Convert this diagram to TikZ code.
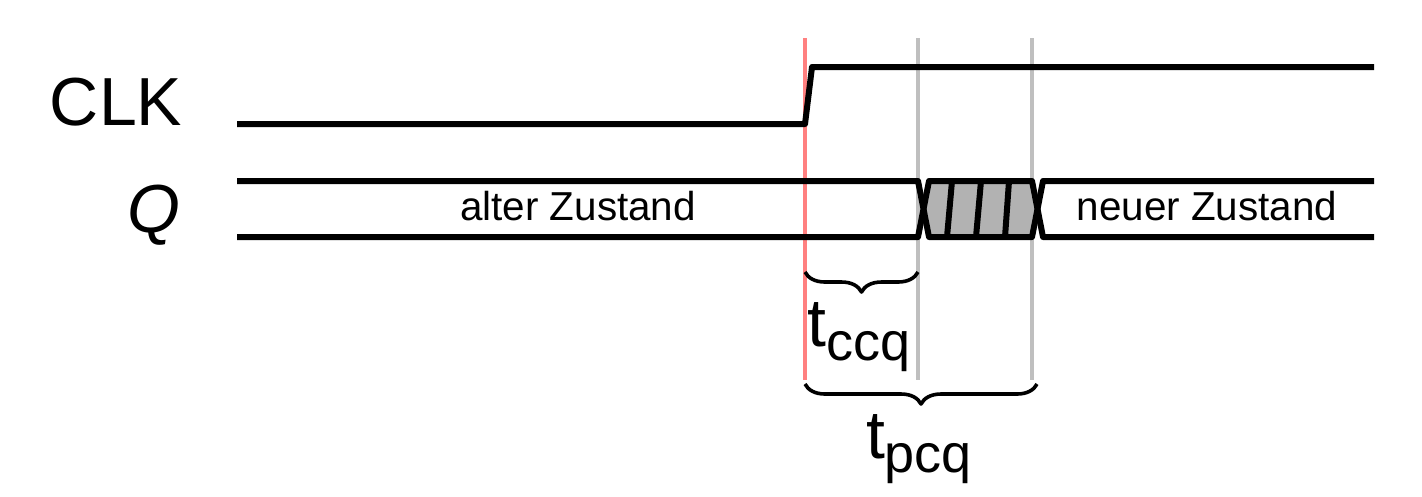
\documentclass[tikz,border=0pt]{standalone}
\usepackage{fontspec}
\setmainfont{Liberation Sans}
\usetikzlibrary{decorations.pathreplacing}

\newcommand{\tdelay}[1]{t\raisebox{-0.4ex}{\fontsize{13.5}{13.5}\selectfont #1}}

\begin{document}
\begin{tikzpicture}[x=0.25pt,y=-0.25pt,line join=round]

	% Define styles
	\tikzstyle{signal} = [line width=1.5pt, black]
	\tikzstyle{clock edge} = [line width=1.1pt, red!50]
	\tikzstyle{marker} = [line width=1.1pt, black!25]
	\tikzstyle{delay brace} = [decorate, decoration={brace, mirror, amplitude=5pt}, line width=0.9pt]
	\tikzstyle{big label} = [inner sep=0pt, font=\fontsize{17}{17}\selectfont]
	\tikzstyle{state label} = [inner sep=0pt, anchor=base, font=\fontsize{10.1}{10.1}\selectfont]

	\useasboundingbox (0,0) rectangle (1422,496);

	% Time markers
	\draw[clock edge] (805,38) -- (805,380);
	\foreach \x in {918,1032}
		\draw[marker] (\x,38) -- (\x,380);

	% Signal names
	\node[big label, anchor=base east] (clk) at (183,125) {CLK};
	\node[big label, anchor=base east] (q) at (181,232) {\textit{Q}};

	% Clock
	\draw[signal] (237,124) -- (805,124) -- (812,67) -- (1374,67);

	% Undefined region of Q
	\fill[black!30] (924,209) -- (929,181) -- (1032,181) -- (1037,209) -- (1032,237) -- (929,237) -- cycle;
	\foreach \top/\bot in {952/947, 981/976, 1009/1005}
		\draw[signal] (\top,181) -- (\bot,237);

	% Q bus
	\draw[signal] (237,181) -- (918,181) -- (929,237) -- (1032,237) -- (1043,181) -- (1374,181);
	\draw[signal] (237,237) -- (918,237) -- (929,181) -- (1032,181) -- (1043,237) -- (1374,237);
	\node[state label] (old) at (578,220) {alter Zustand};
	\node[state label] (new) at (1207,220) {neuer Zustand};

	% Delays
	\draw[delay brace] (805,272) -- (918,272);
	\node[big label, anchor=base] (tccq) at (859,346) {\tdelay{ccq}};
	\draw[delay brace] (805,384) -- (1037,384);
	\node[big label, anchor=base] (tpcq) at (919,458) {\tdelay{pcq}};

\end{tikzpicture}
\end{document}
